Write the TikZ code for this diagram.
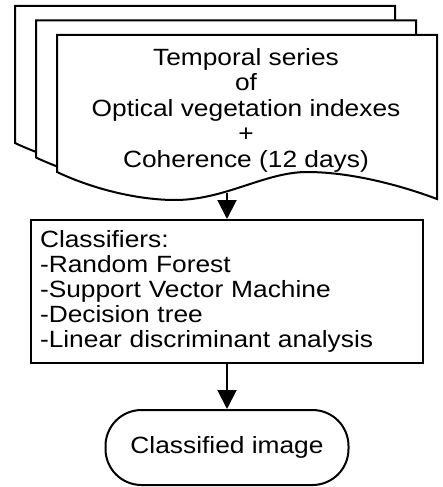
\documentclass[tikz,border=0pt]{standalone}
\usepackage{fontspec}
\setmainfont[FakeStretch=1.12]{Liberation Sans}
\usetikzlibrary{arrows.meta}
\tikzset{
  sheet/.style={draw=black,fill=white,line join=miter},
  flow/.style={-{Triangle[length=19pt,width=19pt]}},
  lbl/.style={font=\fontsize{23.5}{25.5}\selectfont,align=center,inner sep=0pt},
  procbox/.style={draw,rectangle,minimum width=392pt,minimum height=143pt,inner xsep=9pt,inner ysep=0pt,align=left,font=\fontsize{23.5}{25}\selectfont,text width=374pt},
  term/.style={draw,rectangle,rounded corners=36pt,minimum width=243pt,minimum height=75pt,font=\fontsize{23.5}{25}\selectfont,inner sep=0pt},
  docsheet/.pic={
    \path[sheet] (57,-35) -- (437,-35) -- (437,-199)
      .. controls (400,-185) and (350,-172) .. (307,-172)
      .. controls (265,-172) and (225,-200) .. (175,-200)
      .. controls (140,-200) and (95,-190) .. (57,-172) -- cycle;
  }
}
\begin{document}
\begin{tikzpicture}[x=1pt,y=1pt,line width=2pt]
\useasboundingbox (0,0) rectangle (443,-487);
\pic at (-42,29) {docsheet};
\pic at (-21,14.5) {docsheet};
\pic at (0,0) {docsheet};
\node[lbl] (docs) at (246,-110.1) {Temporal series\\of\\Optical vegetation indexes\\+\\Coherence (12 days)};
\coordinate (docout) at (227,-193);
\node[procbox] (cls) at (227,-291.5) {Classifiers:\\-Random Forest\\-Support Vector Machine\\-Decision tree\\-Linear discriminant analysis};
\node[term] (out) at (227,-447.5) {Classified image};
\draw[flow] (docout) -- (cls.north);
\draw[flow] (cls.south) -- (out.north);
\end{tikzpicture}
\end{document}
